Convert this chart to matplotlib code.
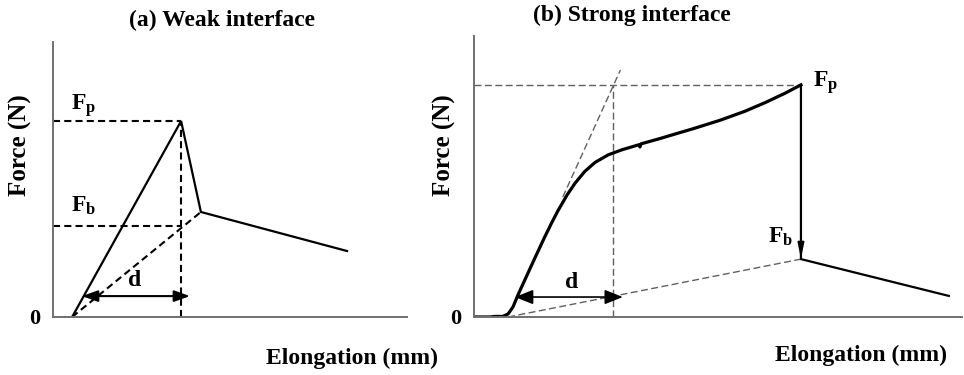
import numpy as np
import matplotlib.pyplot as plt

plt.rcParams['font.family'] = ['Liberation Serif', 'DejaVu Serif']
plt.rcParams['font.weight'] = 'bold'
plt.rcParams['mathtext.fontset'] = 'custom'
plt.rcParams['mathtext.rm'] = 'Liberation Serif:bold'
plt.rcParams['mathtext.bf'] = 'Liberation Serif:bold'

# (a) weak interface: piecewise linear curve (elongation, force), arbitrary units
weak_x = [0.54, 3.62, 4.18, 8.31]
weak_y = [0.0, 7.13, 3.82, 2.40]
weak_fp = 7.13
weak_fb = 3.30
weak_d = [0.82, 3.87]      # arrow ends for d
weak_d_level = 0.76

# (b) strong interface: measured-looking curve
strong_x = [0.0, 0.33, 0.43, 0.59, 0.70, 0.80, 0.90, 1.05, 1.19, 1.31, 1.45, 1.60,
            1.72, 1.91, 2.07, 2.27, 2.48, 2.75, 3.03, 3.38, 3.40, 3.42, 3.81, 4.08,
            4.49, 5.04, 5.55, 5.98, 6.37, 6.70, 6.70, 9.73]
strong_y = [0.0, 0.0, 0.02, 0.02, 0.11, 0.36, 0.78, 1.35, 1.88, 2.33, 2.85, 3.38,
            3.78, 4.35, 4.76, 5.18, 5.50, 5.77, 5.95, 6.13, 6.05, 6.16, 6.35, 6.49,
            6.70, 7.00, 7.32, 7.64, 7.96, 8.26, 2.06, 0.75]
strong_fp = 8.26
strong_fb = 2.06
strong_break_x = 6.70
strong_start_x = 0.70
tangent_x = [1.82, 3.00]
tangent_y = [4.27, 8.79]
strong_dx = 2.85
strong_d = [0.84, 3.05]
strong_d_level = 0.71


def style_axes(ax, title, title_xy, xlab_xy, ylab_xy):
    ax.set_xlim(0, 10)
    ax.set_ylim(0, 10)
    for s in ['top', 'right']:
        ax.spines[s].set_visible(False)
    for s in ['left', 'bottom']:
        ax.spines[s].set_color('#707070')
        ax.spines[s].set_linewidth(1.4)
    ax.set_xticks([])
    ax.set_yticks([0])
    ax.set_yticklabels(['0'], fontsize=16, fontweight='bold')
    ax.tick_params(axis='y', length=0, pad=9)
    ax.text(title_xy[0], title_xy[1], title, transform=ax.transAxes, ha='center',
            va='center', fontsize=17, fontweight='bold')
    ax.text(xlab_xy[0], xlab_xy[1], 'Elongation (mm)', transform=ax.transAxes,
            ha='center', va='center', fontsize=17, fontweight='bold')
    ax.text(ylab_xy[0], ylab_xy[1], 'Force (N)', transform=ax.transAxes,
            ha='center', va='center', rotation=90, fontsize=18, fontweight='bold')


fig = plt.figure(figsize=(9.64, 3.75), dpi=100)

# ---- panel (a)
ax1 = fig.add_axes([0.055, 0.1547, 0.367, 0.733])
style_axes(ax1, '(a) Weak interface', (0.479, 1.08), (0.845, -0.149), (-0.093, 0.625))
dash_k = dict(color='black', lw=1.5, ls=(0, (3.4, 2)))
ax1.plot([0, weak_x[1]], [weak_fp, weak_fp], **dash_k)
ax1.plot([0, weak_x[1]], [weak_fb, weak_fb], **dash_k)
ax1.plot([weak_x[1], weak_x[1]], [0, weak_fp], **dash_k)
ax1.plot([weak_x[0], weak_x[2]], [weak_y[0], weak_y[2]], **dash_k)
ax1.plot(weak_x, weak_y, color='black', lw=1.6, solid_joinstyle='miter')
ax1.annotate('', xy=(weak_d[0], weak_d_level), xytext=(weak_d[1], weak_d_level),
             arrowprops=dict(arrowstyle='<|-|>,head_length=0.5,head_width=0.18',
                             color='black', lw=1.5, mutation_scale=19,
                             shrinkA=0, shrinkB=0))
ax1.text(2.32, 1.31, 'd', ha='center', va='center', fontsize=17)
ax1.text(0.85, weak_fp + 0.55, r'$\mathbf{F_p}$', ha='center', va='center', fontsize=17)
ax1.text(0.85, weak_fb + 0.75, r'$\mathbf{F_b}$', ha='center', va='center', fontsize=17)

# ---- panel (b)
ax2 = fig.add_axes([0.4917, 0.1547, 0.5062, 0.7493])
style_axes(ax2, '(b) Strong interface', (0.324, 1.075), (0.793, -0.135), (-0.061, 0.612))
dash_g = dict(color='#606060', lw=1.0, ls=(0, (5, 2.5)))
ax2.plot([0, strong_break_x], [strong_fp, strong_fp], **dash_g)
ax2.plot([strong_dx, strong_dx], [0, strong_fp], **dash_g)
ax2.plot(tangent_x, tangent_y, **dash_g)
ax2.plot([strong_start_x, strong_break_x], [0, strong_fb], **dash_g)
ax2.plot(strong_x[:-2], strong_y[:-2], color='black', lw=2.3)
ax2.plot(strong_x[-3:], strong_y[-3:], color='black', lw=1.6)
ax2.annotate('', xy=(strong_break_x, strong_fb), xytext=(strong_break_x, strong_fb + 0.65),
             arrowprops=dict(arrowstyle='-|>,head_length=0.6,head_width=0.12',
                             color='black', lw=1.2, mutation_scale=16,
                             shrinkA=0, shrinkB=0))
ax2.annotate('', xy=(strong_d[0], strong_d_level), xytext=(strong_d[1], strong_d_level),
             arrowprops=dict(arrowstyle='<|-|>,head_length=0.5,head_width=0.2',
                             color='black', lw=1.2, mutation_scale=22,
                             shrinkA=0, shrinkB=0))
ax2.text(2.01, 1.21, 'd', ha='center', va='center', fontsize=17)
ax2.text(7.21, 8.33, r'$\mathbf{F_p}$', ha='center', va='center', fontsize=17)
ax2.text(6.29, 2.85, r'$\mathbf{F_b}$', ha='center', va='center', fontsize=17)

fig.savefig('out.png', dpi=100)
